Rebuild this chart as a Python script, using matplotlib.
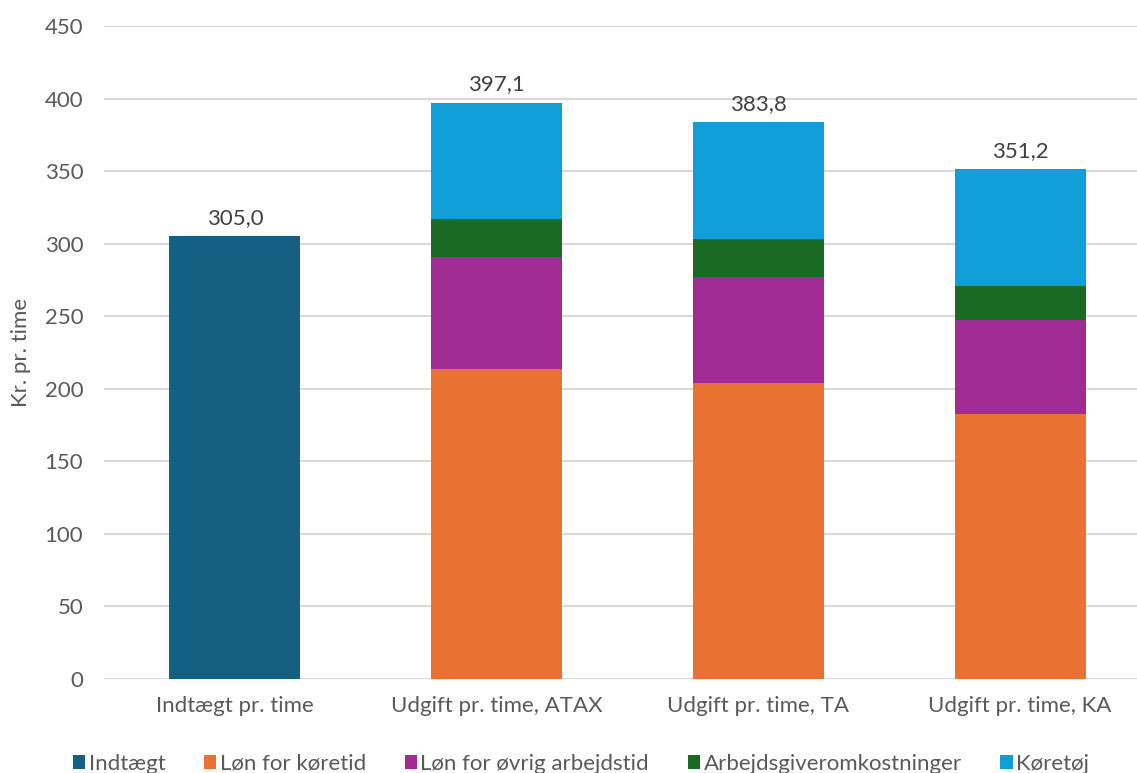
import matplotlib.pyplot as plt
from matplotlib.patches import Patch
import numpy as np

plt.rcParams['font.family'] = ['Lato', 'DejaVu Sans']

categories = ["Indtægt pr. time", "Udgift pr. time, ATAX", "Udgift pr. time, TA", "Udgift pr. time, KA"]
series_names = ["Indtægt", "Løn for køretid", "Løn for øvrig arbejdstid", "Arbejdsgiveromkostninger", "Køretøj"]
indtaegt = [305.0, 0, 0, 0]
loen_koeretid = [0, 213.8, 204.0, 182.4]
loen_oevrig = [0, 76.8, 73.0, 65.0]
arbejdsgiver = [0, 26.2, 26.5, 23.4]
koeretoej = [0, 80.3, 80.3, 80.4]
totals = [305.0, 397.1, 383.8, 351.2]

colors = ["#156082", "#E97132", "#A02B93", "#196B24", "#0F9ED5"]
txt = "#595959"
fs = 16

fig = plt.figure(figsize=(11.37, 7.73), dpi=100)
ax = fig.add_axes([104 / 1137, 1 - 679 / 773, 1047 / 1137, 653 / 773])

x = np.arange(len(categories))
bottom = np.zeros(len(categories))
for vals, col in zip([indtaegt, loen_koeretid, loen_oevrig, arbejdsgiver, koeretoej], colors):
    ax.bar(x, vals, 0.5, bottom=bottom, color=col, zorder=3)
    bottom += np.array(vals)

for xi, t in zip(x, totals):
    ax.annotate(f"{t:.1f}".replace(".", ","), (xi, t), xytext=(0, 6), textcoords="offset points",
                ha="center", va="bottom", fontsize=fs, color="#404040")

ax.set_xlim(-0.5, 3.5)
ax.set_ylim(0, 450)
ax.set_yticks(range(0, 451, 50))
ax.set_xticks(x)
ax.set_xticklabels(categories)
ax.grid(axis="y", color="#D9D9D9", linewidth=1.5, zorder=0)
for s in ax.spines.values():
    s.set_visible(False)
ax.tick_params(length=0, labelsize=fs, colors=txt)
ax.tick_params(axis="y", pad=15)
ax.tick_params(axis="x", pad=12)
ax.set_ylabel("Kr. pr. time", fontsize=fs, color=txt, labelpad=10)

handles = [Patch(facecolor=c) for c in colors]
fig.legend(handles, series_names, loc="center", bbox_to_anchor=(0.511, 0.012), ncol=5, frameon=False,
           fontsize=fs, labelcolor=txt, handlelength=0.55, handleheight=0.55, handletextpad=0.15,
           columnspacing=1.75, borderaxespad=0)

fig.savefig("out.png", dpi=100)
